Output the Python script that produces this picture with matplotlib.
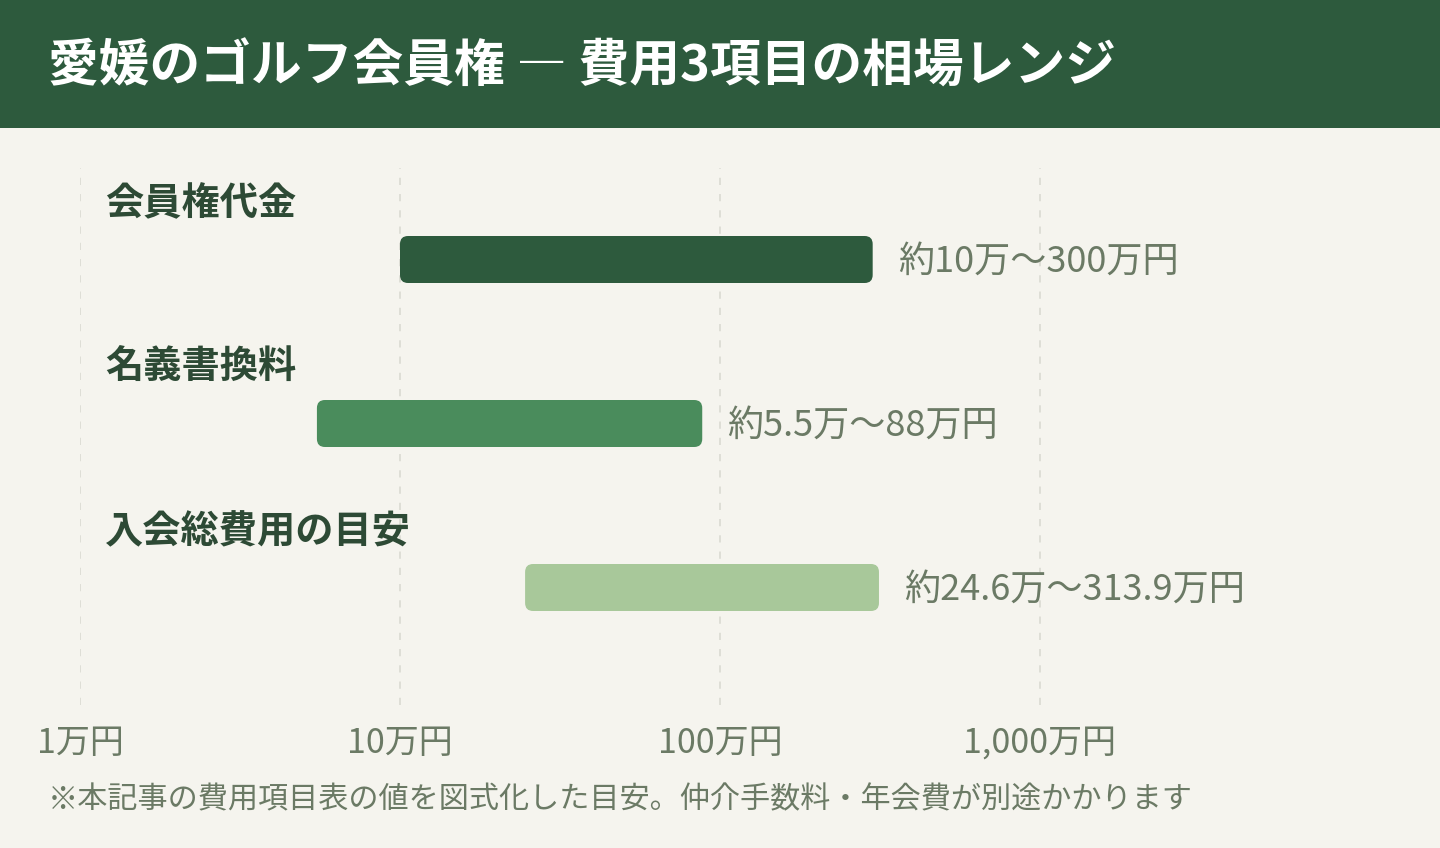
import matplotlib
matplotlib.use("Agg")
import matplotlib.pyplot as plt
from matplotlib.patches import FancyBboxPatch, Rectangle
from matplotlib.transforms import IdentityTransform, Affine2D
from matplotlib.ticker import FixedLocator, FixedFormatter

plt.rcParams['font.family'] = ['Noto Sans CJK JP', 'DejaVu Sans']

# data (unit: 万円)
categories = ['会員権代金', '名義書換料', '入会総費用の目安']
low_values = [10, 5.5, 24.6]
high_values = [300, 88, 313.9]
value_labels = ['約10万～300万円', '約5.5万～88万円', '約24.6万～313.9万円']
tick_values = [1, 10, 100, 1000]
tick_labels = ['1万円', '10万円', '100万円', '1,000万円']

title = '愛媛のゴルフ会員権 ― 費用3項目の相場レンジ'
note = '※本記事の費用項目表の値を図式化した目安。仲介手数料・年会費が別途かかります'

bg = '#f5f4ee'
header = '#2d5a3d'
bar_colors = ['#2d5a3d', '#4a8c5c', '#a8c89a']
label_color = '#2d4a35'
muted = '#6b7a65'

W, H = 1440, 848
fig = plt.figure(figsize=(W / 100, H / 100), dpi=100, facecolor=bg)

# header band
fig.patches.append(Rectangle((0, 1 - 128 / H), 1, 128 / H, transform=fig.transFigure,
                             facecolor=header, edgecolor='none', zorder=0))
fig.text(48 / W, 1 - 67 / H, title, color='white', fontsize=36.5, fontweight='bold',
         ha='left', va='center')

# plot area: y axis in pixel-like units (row positions)
top, bottom = 168, 705
ax = fig.add_axes([80 / W, 1 - bottom / H, 1280 / W, (bottom - top) / H])
ax.set_facecolor('none')
ax.set_xscale('log')
ax.set_xlim(1, 10000)
ax.set_ylim(bottom, top)
for s in ax.spines.values():
    s.set_visible(False)
ax.xaxis.set_major_locator(FixedLocator(tick_values))
ax.xaxis.set_major_formatter(FixedFormatter(tick_labels))
ax.xaxis.set_minor_locator(FixedLocator([]))
ax.tick_params(axis='x', length=0, pad=15, labelsize=24.5, labelcolor=muted)
ax.set_yticks([])
for t in tick_values:
    ax.axvline(t, color='#dcdcd4', lw=1.3, ls=(0, (4, 5)), zorder=0)

row_centers = [259.5, 423.5, 587.5]
bar_h = 47

fig.canvas.draw()
for i, cat in enumerate(categories):
    yc = row_centers[i]
    (x0, y0) = ax.transData.transform((low_values[i], yc + bar_h / 2))
    (x1, y1) = ax.transData.transform((high_values[i], yc - bar_h / 2))
    patch = FancyBboxPatch((x0, y0), x1 - x0, y1 - y0,
                           boxstyle='round,pad=0,rounding_size=8',
                           transform=IdentityTransform(),
                           facecolor=bar_colors[i], edgecolor='none', zorder=2)
    fig.patches.append(patch)
    ax.text(1, yc - 56, cat, transform=ax.transData + Affine2D().translate(25, 0),
            fontsize=27.5, fontweight='bold', color=label_color, ha='left', va='center')
    ax.annotate(value_labels[i], xy=(high_values[i], yc), xytext=(25, -2),
                textcoords='offset pixels', fontsize=26, color=muted,
                ha='left', va='center')

fig.text(48 / W, 1 - 800 / H, note, color=muted, fontsize=21.7, ha='left', va='center')

fig.savefig('out.png', dpi=100, facecolor=bg)
